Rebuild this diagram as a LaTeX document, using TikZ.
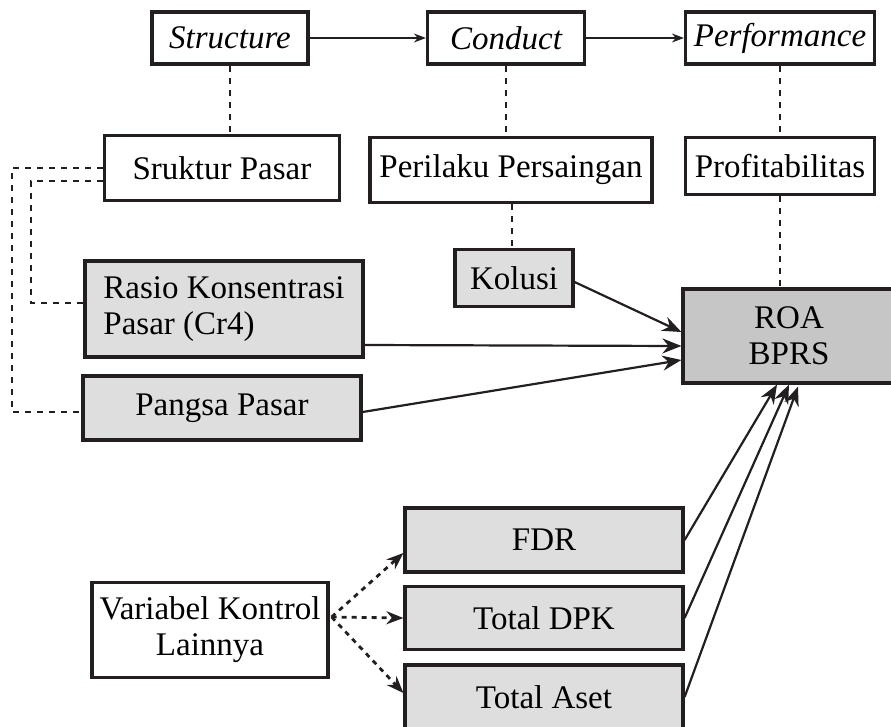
\documentclass[tikz,border=0pt]{standalone}
\usepackage{fontspec}
\setmainfont{Liberation Serif}
\usetikzlibrary{arrows.meta}
\definecolor{ink}{HTML}{231F20}
\definecolor{varfill}{HTML}{DEDEDE}
\definecolor{roafill}{HTML}{C6C6C6}

\begin{document}
\begin{tikzpicture}[x=1pt,y=-1pt,>=Stealth,
  box/.style={draw=ink,line width=3.2pt,inner sep=0pt,align=center,
    font=\fontsize{33}{36}\selectfont},
  var/.style={box,fill=varfill},
  topbox/.style={box,font=\fontsize{33}{36}\selectfont\itshape},
  dashline/.style={draw=ink,line width=2.8pt,dash pattern=on 6pt off 6pt},
  dotarrow/.style={draw=ink,line width=2.8pt,dash pattern=on 5pt off 5pt,
    -{Stealth[length=17pt,width=13pt]}},
  solidarrow/.style={draw=ink,line width=2.2pt,-{Stealth[length=19pt,width=15pt]}},
  toparrow/.style={draw=ink,line width=1.4pt,-{Stealth[length=12pt,width=9pt]}}]
  \useasboundingbox (0,0) rectangle (891,726);
  \node[topbox,minimum width=156,minimum height=52] (structure)   at (230,38)  {Structure};
  \node[topbox,minimum width=157,minimum height=52] (conduct)     at (506,38)  {Conduct};
  \node[topbox,minimum width=189,minimum height=52] (performance) at (780,38)  {Performance};
  \node[box,minimum width=235,minimum height=65] (sruktur)  at (222,168) {Sruktur Pasar};
  \node[box,minimum width=282,minimum height=65] (perilaku) at (511,170) {Perilaku Persaingan};
  \node[box,minimum width=189,minimum height=57] (profit)   at (780,166) {Profitabilitas};
  \node[var,minimum width=278,minimum height=96,align=left] (rasio) at (224,309) {Rasio Konsentrasi\\Pasar (Cr4)};
  \node[var,minimum width=118,minimum height=57] (kolusi)   at (514,278) {Kolusi};
  \node[var,minimum width=278,minimum height=64] (pangsa)   at (222,408) {Pangsa Pasar};
  \node[box,fill=roafill,minimum width=212,minimum height=94] (roa) at (789,336) {ROA\\BPRS};
  \node[var,minimum width=278,minimum height=64] (fdr)  at (544,540) {FDR};
  \node[var,minimum width=278,minimum height=63] (dpk)  at (544,618) {Total DPK};
  \node[var,minimum width=278,minimum height=64] (aset) at (544,697) {Total Aset};
  \node[box,minimum width=236,minimum height=95] (kontrol) at (210,630) {Variabel Kontrol\\Lainnya};

  \draw[toparrow] (structure) -- (conduct);
  \draw[toparrow] (conduct) -- (performance);
  \draw[dashline] (structure) -- (structure |- sruktur.north);
  \draw[dashline] (conduct) -- (conduct |- perilaku.north);
  \draw[dashline] (performance) -- (performance |- profit.north);
  \draw[dashline] ([xshift=1pt]perilaku.south) -- ([xshift=1pt]perilaku.south |- kolusi.north);
  \draw[dashline] (profit) -- (profit |- roa.north);
  \draw[dashline] (sruktur.west) -- ++(-91,0) |- ([yshift=-4pt]pangsa.west);
  \draw[dashline] ([yshift=-13pt]sruktur.west) -- ++(-72,0) |- ([yshift=6pt]rasio.west);

  \draw[solidarrow] ([yshift=-4pt]kolusi.east) -- ([yshift=4pt]roa.west);
  \draw[solidarrow] ([yshift=-36pt]rasio.east) -- ([yshift=-10pt]roa.west);
  \draw[solidarrow] ([yshift=-4pt]pangsa.east) -- ([yshift=-24pt]roa.west);
  \draw[solidarrow] (fdr.east) -- ([xshift=-12pt]roa.south);
  \draw[solidarrow] (dpk.east) -- (roa.south);
  \draw[solidarrow] (aset.east) -- ([xshift=9pt,yshift=-2pt]roa.south);

  \draw[dotarrow] ([xshift=2pt,yshift=13pt]kontrol.east) -- ([yshift=-13pt]fdr.west);
  \draw[dotarrow] ([xshift=2pt,yshift=13pt]kontrol.east) -- (dpk.west);
  \draw[dotarrow] ([xshift=2pt,yshift=13pt]kontrol.east) -- ([yshift=4pt]aset.west);
\end{tikzpicture}
\end{document}
